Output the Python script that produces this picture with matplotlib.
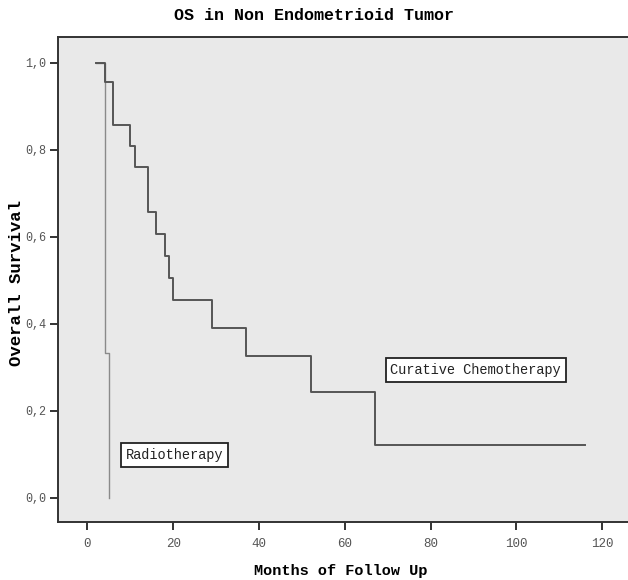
import matplotlib
matplotlib.use("Agg")
import matplotlib.pyplot as plt

# Data (months, survival proportion)
chemo_times = [2, 4, 6, 10, 11, 14, 16, 18, 19, 20, 29, 37, 52, 67, 116]
chemo_surv = [1.0, 0.955, 0.857, 0.809, 0.759, 0.656, 0.607, 0.556, 0.505, 0.455, 0.390, 0.325, 0.243, 0.122, 0.122]

radio_times = [2, 4, 5, 5]
radio_surv = [1.0, 0.333, 0.0, 0.0]

xticks = [0, 20, 40, 60, 80, 100, 120]
yticks = [0.0, 0.2, 0.4, 0.6, 0.8, 1.0]
ytick_labels = ["0,0", "0,2", "0,4", "0,6", "0,8", "1,0"]

title = "OS in Non Endometrioid Tumor"
xlabel = "Months of Follow Up"
ylabel = "Overall Survival"

mono = "Liberation Mono"

fig = plt.figure(figsize=(6.28, 5.80), dpi=100)
ax = fig.add_axes([0.0928, 0.1005, 0.9072, 0.8352])
ax.set_facecolor("#e9e9e9")

ax.step(chemo_times, chemo_surv, where="post", color="#555555", lw=1.4, zorder=3)
ax.step(radio_times, radio_surv, where="post", color="#8a8a8a", lw=1.0, zorder=2)

ax.set_xlim(-6.8, 126.0)
ax.set_ylim(-0.055, 1.058)

ax.set_xticks(xticks)
ax.set_xticklabels([str(t) for t in xticks])
ax.set_yticks(yticks)
ax.set_yticklabels(ytick_labels)

for lab in ax.get_xticklabels():
    lab.set_fontfamily(mono)
    lab.set_fontsize(9)
    lab.set_color("#555555")
for lab in ax.get_yticklabels():
    lab.set_fontfamily(mono)
    lab.set_fontsize(8.5)
    lab.set_color("#555555")

ax.tick_params(axis="both", direction="out", length=6, width=1.3, color="#222222", pad=2.5)
ax.tick_params(axis="x", pad=6)

for side in ["left", "bottom", "top"]:
    ax.spines[side].set_color("#333333")
    ax.spines[side].set_linewidth(1.4)
ax.spines["right"].set_visible(False)

fig.text(0.5, 1 - 15 / 580, title, ha="center", va="center",
         fontfamily=mono, fontweight="bold", fontsize=12)
fig.text(0.542, 1 - 571 / 580, xlabel, ha="center", va="center",
         fontfamily=mono, fontweight="bold", fontsize=11)
fig.text(17 / 628, 1 - 283 / 580, ylabel, ha="center", va="center", rotation=90,
         fontfamily=mono, fontweight="bold", fontsize=12.5)

box = dict(boxstyle="square,pad=0.35", facecolor="white", edgecolor="#222222", lw=1.3)
ax.text(20.3, 0.098, "Radiotherapy", ha="center", va="center",
        fontfamily=mono, fontsize=9.8, color="#222222", bbox=box, zorder=5)
ax.text(90.5, 0.293, "Curative Chemotherapy", ha="center", va="center",
        fontfamily=mono, fontsize=9.8, color="#222222", bbox=box, zorder=5)

fig.savefig("out.png", dpi=100, facecolor="white")
